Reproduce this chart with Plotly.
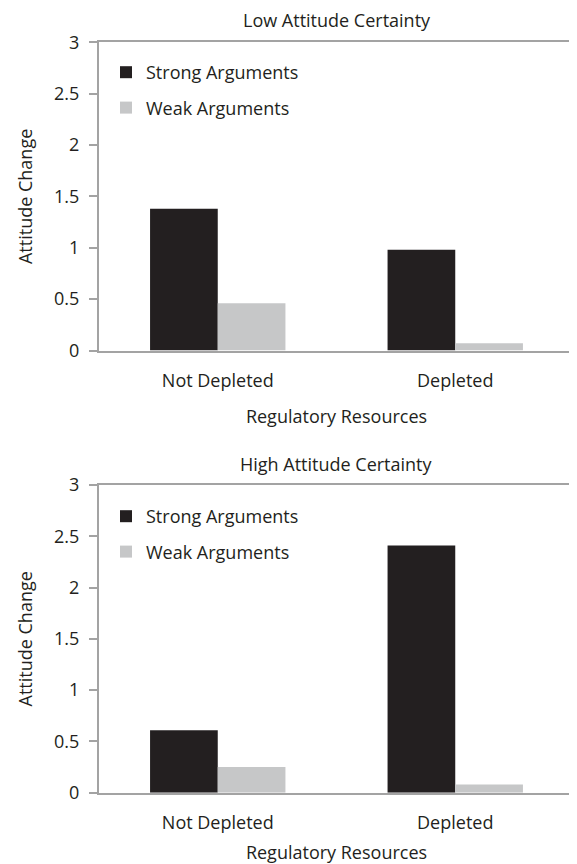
import plotly.graph_objects as go

categories = ["Not Depleted", "Depleted"]
low_strong = [1.38, 0.98]
low_weak = [0.46, 0.07]
high_strong = [0.61, 2.41]
high_weak = [0.25, 0.08]
y_ticks = [0, 0.5, 1, 1.5, 2, 2.5, 3]
y_tick_text = ["0", "0.5", "1", "1.5", "2", "2.5", "3"]
panel_titles = ["Low Attitude Certainty", "High Attitude Certainty"]

# the page body has an 8px margin, so the figure is drawn 8px smaller and offset
OFF = 8
W, H = 577 - OFF, 864 - OFF
FONT = "Open Sans"
FS = 18
TXT = "#231f20"
STRONG = "#231f20"
WEAK = "#c6c7c8"
AX = "#a3a3a3"

def px_x(p):
    return (p - OFF) / W

def px_y(p):
    return 1 - (p - OFF) / H

fig = go.Figure()
fig.add_trace(go.Bar(x=categories, y=low_strong, name="Strong Arguments", marker_color=STRONG,
                     xaxis="x", yaxis="y", legend="legend", legendgroup="s1"))
fig.add_trace(go.Bar(x=categories, y=low_weak, name="Weak Arguments", marker_color=WEAK,
                     xaxis="x", yaxis="y", legend="legend", legendgroup="w1"))
fig.add_trace(go.Bar(x=categories, y=high_strong, name="Strong Arguments", marker_color=STRONG,
                     xaxis="x2", yaxis="y2", legend="legend2", legendgroup="s2"))
fig.add_trace(go.Bar(x=categories, y=high_weak, name="Weak Arguments", marker_color=WEAK,
                     xaxis="x2", yaxis="y2", legend="legend2", legendgroup="w2"))
fig.update_traces(marker_line_width=0)

xdom = [px_x(99), px_x(574)]
d1 = [px_y(350.5), px_y(42.3)]
d2 = [px_y(792.7), px_y(485)]

xcommon = dict(domain=xdom, showline=True, linecolor=AX, linewidth=2, mirror=True, automargin=False,
               ticks="", showgrid=False, tickfont=dict(family=FONT, size=FS, color=TXT),
               ticklabelstandoff=13,
               title=dict(text="Regulatory Resources", font=dict(family=FONT, size=FS, color=TXT), standoff=19))
ycommon = dict(range=[0, 3], tickvals=y_ticks, ticktext=y_tick_text, showline=True, linecolor=AX,
               linewidth=2, mirror=True, ticks="outside", ticklen=8, tickcolor=AX, tickwidth=2,
               showgrid=False, zeroline=False, tickfont=dict(family=FONT, size=FS, color=TXT),
               ticklabelstandoff=6, automargin=False,
               title=dict(text="Attitude Change", font=dict(family=FONT, size=FS, color=TXT), standoff=17))

legcommon = dict(x=px_x(106), xanchor="left", yanchor="top", bgcolor="rgba(0,0,0,0)",
                 font=dict(family=FONT, size=FS, color=TXT), tracegroupgap=9, traceorder="grouped")

fig.update_layout(
    width=W, height=H, margin=dict(l=0, r=0, t=0, b=0, autoexpand=False),
    paper_bgcolor="white", plot_bgcolor="white",
    barmode="group", bargap=0.43, bargroupgap=0,
    xaxis=dict(**xcommon, anchor="y"),
    yaxis=dict(**ycommon, domain=d1, anchor="x"),
    xaxis2=dict(**xcommon, anchor="y2"),
    yaxis2=dict(**ycommon, domain=d2, anchor="x2"),
    legend=dict(**legcommon, y=px_y(54)),
    legend2=dict(**legcommon, y=px_y(498)),
    annotations=[
        dict(text=panel_titles[0], x=(xdom[0] + xdom[1]) / 2, y=px_y(20), xref="paper", yref="paper",
             showarrow=False, font=dict(family=FONT, size=FS, color=TXT), xanchor="center", yanchor="middle",
             borderpad=0),
        dict(text=panel_titles[1], x=(xdom[0] + xdom[1]) / 2, y=px_y(464), xref="paper", yref="paper",
             showarrow=False, font=dict(family=FONT, size=FS, color=TXT), xanchor="center", yanchor="middle",
             borderpad=0),
    ],
)

fig.write_html("out.html")
